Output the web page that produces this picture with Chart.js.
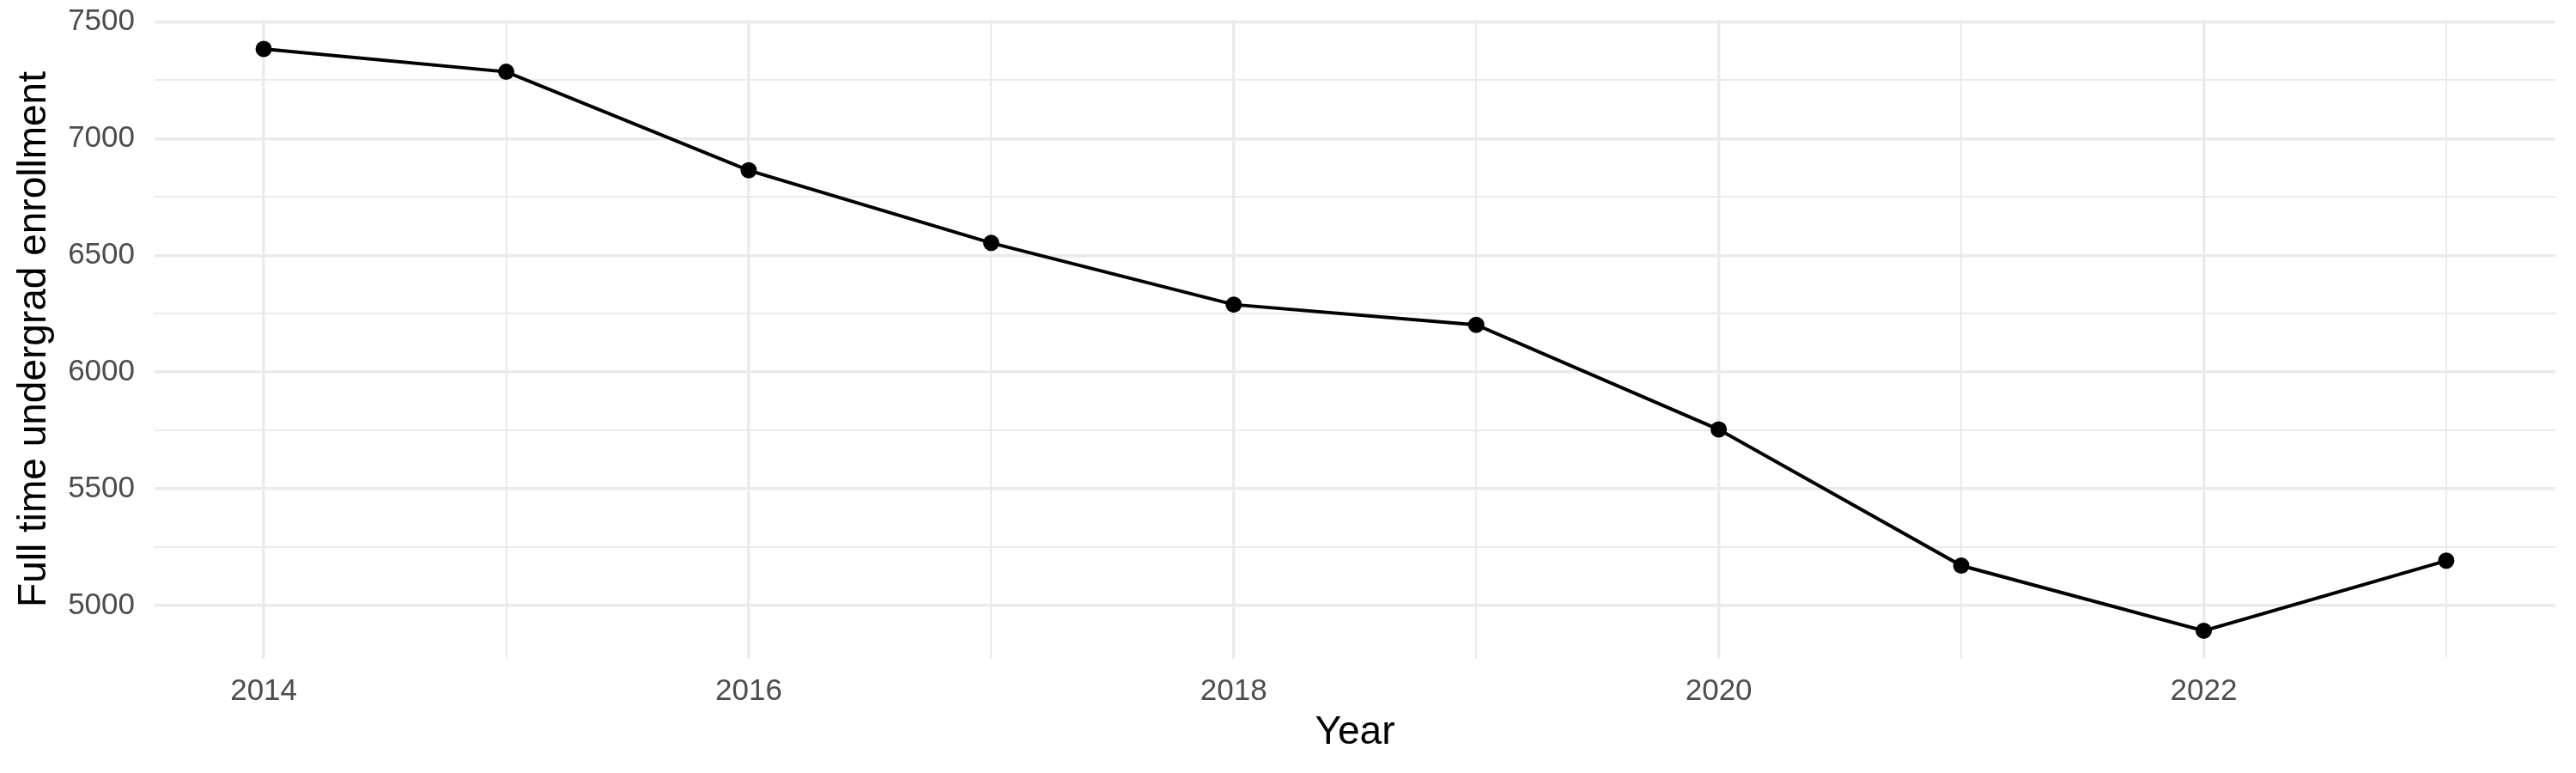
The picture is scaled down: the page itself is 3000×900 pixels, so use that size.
<!DOCTYPE html>
<html>
<head>
<meta charset="utf-8">
<script src="https://cdn.jsdelivr.net/npm/chart.js@4"></script>
<style>
    body { margin: 0; background: #fff; }
    #chart { display: block; }
</style>
</head>
<body>
<canvas id="chart" width="3000" height="900"></canvas>
<script>
// Data
const years = [2014, 2015, 2016, 2017, 2018, 2019, 2020, 2021, 2022, 2023];
const enrollment = [7384, 7286, 6864, 6553, 6289, 6202, 5754, 5171, 4892, 5192];

// Tick labels (major get text, minor only a grid line)
const xMajor = [2014, 2016, 2018, 2020, 2022];
const xMinor = [2015, 2017, 2019, 2021, 2023];
const yMajor = [5000, 5500, 6000, 6500, 7000, 7500];
const yMinor = [5250, 5750, 6250, 6750, 7250];

const fontFamily = '"Liberation Sans", Arial, sans-serif';
const gridColor = '#EBEBEB';

const xTicks = [...xMajor, ...xMinor].sort((a, b) => a - b);
const yTicks = [...yMajor, ...yMinor].sort((a, b) => a - b);

// Grid line width: thicker for major breaks
function gridWidth(major) {
    return ctx => (ctx.tick && major.includes(ctx.tick.value)) ? 3.5 : 2;
}

const ctx = document.getElementById('chart').getContext('2d');
new Chart(ctx, {
    type: 'line',
    data: {
        datasets: [{
            data: years.map((y, i) => ({ x: y, y: enrollment[i] })),
            borderColor: '#000',
            backgroundColor: '#000',
            borderWidth: 4,
            pointRadius: 9.5,
            pointBorderWidth: 0,
            pointBackgroundColor: '#000',
            tension: 0
        }]
    },
    options: {
        responsive: false,
        animation: false,
        devicePixelRatio: 1,
        layout: { padding: { top: 23, right: 24, bottom: 0, left: 0 } },
        plugins: {
            legend: { display: false },
            tooltip: { enabled: false }
        },
        scales: {
            x: {
                type: 'linear',
                min: 2013.55,
                max: 2023.45,
                afterBuildTicks: s => { s.ticks = xTicks.map(v => ({ value: v })); },
                afterFit: s => { s.height = 133; s.paddingLeft = 0; s.paddingRight = 0; },
                border: { display: false },
                grid: { color: gridColor, lineWidth: gridWidth(xMajor), drawTicks: false },
                ticks: {
                    autoSkip: false,
                    maxRotation: 0,
                    padding: 17,
                    color: '#4D4D4D',
                    font: { family: fontFamily, size: 35 },
                    callback: v => xMajor.includes(v) ? String(v) : ''
                },
                title: {
                    display: true,
                    text: 'Year',
                    color: '#000',
                    font: { family: fontFamily, size: 46 },
                    padding: { top: 0, bottom: 19 }
                }
            },
            y: {
                min: 4772,
                max: 7509,
                afterBuildTicks: s => { s.ticks = yTicks.map(v => ({ value: v })); },
                afterFit: s => { s.width = 180; s.paddingTop = 0; s.paddingBottom = 0; },
                border: { display: false },
                grid: { color: gridColor, lineWidth: gridWidth(yMajor), drawTicks: false },
                ticks: {
                    padding: 23,
                    color: '#4D4D4D',
                    font: { family: fontFamily, size: 35 },
                    callback: v => yMajor.includes(v) ? String(v) : ''
                },
                title: {
                    display: true,
                    text: 'Full time undergrad enrollment',
                    color: '#000',
                    font: { family: fontFamily, size: 46 },
                    padding: { top: 13, bottom: 0 }
                }
            }
        }
    }
});
</script>
</body>
</html>
